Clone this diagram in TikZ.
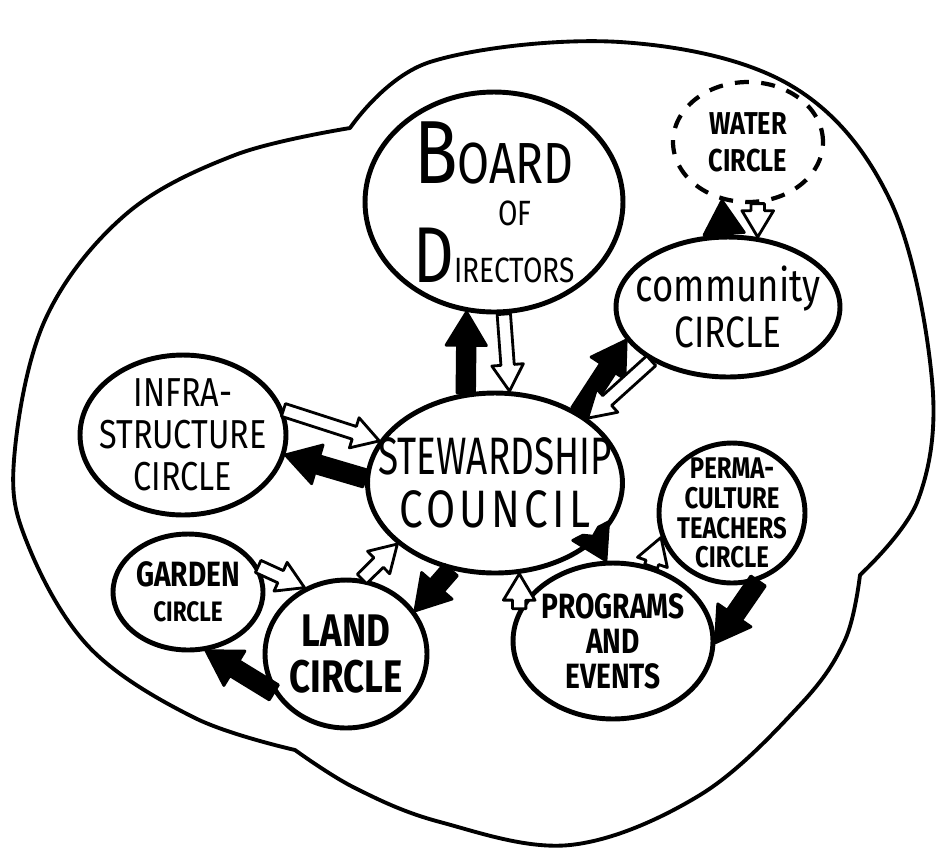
\documentclass[tikz,border=0pt]{standalone}
\usepackage{fontspec}
\setmainfont{Fira Sans}[FakeStretch=0.8]
\newfontfamily\narrowhand{Fira Sans}[FakeStretch=0.7]
\usetikzlibrary{shapes.geometric,calc}

% block arrow: fill, half shaft, half head, head length, from, to
\newcommand{\flowshape}[6]{%
  \path (#5) coordinate (fa) (#6) coordinate (fb);
  \path ($(fb)!#4!(fa)$) coordinate (fc);
  \filldraw[fill=#1, line width=1.6pt, line join=round]
    ($(fa)!#2!90:(fb)$) -- ($(fc)!#2!-90:(fa)$) -- ($(fc)!#3!-90:(fa)$) -- (fb)
    -- ($(fc)!#3!90:(fa)$) -- ($(fc)!#2!90:(fa)$) -- ($(fa)!#2!-90:(fb)$) -- cycle;
}
\newcommand{\blackflow}[2]{\flowshape{black}{5pt}{11.5pt}{19pt}{#1}{#2}}
\newcommand{\whiteflow}[2]{\flowshape{white}{3.8pt}{9pt}{15pt}{#1}{#2}}

\begin{document}
\begin{tikzpicture}[x=0.02cm, y=-0.02cm, line join=round,
		circ/.style={ellipse, draw, line width=2.8pt, inner sep=-20pt, align=center}]
		\useasboundingbox (0,0) rectangle (937,850);
		% outer border of the three lobes
		\draw[line width=2.2pt] plot[smooth, tension=0.6] coordinates {(350,128) (430,62) (620,42) (790,85) (890,200) (932,380) (918,500) (860,575)}
			-- plot[smooth, tension=0.6] coordinates {(860,575) (845,640) (800,705) (700,795) (570,845) (440,822) (355,788) (295,750)}
			-- plot[smooth, tension=0.6] coordinates {(295,750) (195,718) (90,648) (28,545) (14,460) (45,320) (125,215) (235,155) (350,128)} -- cycle;
		\node[circ, minimum width=5.16cm, minimum height=4.4cm, font=\fontsize{20}{24}\selectfont] (board) at (494,202)
			{{\fontsize{51}{51}\selectfont B}{\fontsize{33}{33}\selectfont OARD}\\\hspace*{1.2em}OF\\{\fontsize{45}{45}\selectfont D}IRECTORS};
		\node[circ, dash pattern=on 8pt off 7pt, line width=2.4pt, minimum width=3cm, minimum height=2.4cm,
			font=\bfseries\fontsize{18}{21}\selectfont] (water) at (748,142) {WATER\\CIRCLE};
		\node[circ, minimum width=4.48cm, minimum height=2.8cm, font=\fontsize{25}{26}\selectfont] (community) at (728,307)
			{{\fontsize{26}{26}\selectfont community}\\CIRCLE};
		\node[circ, minimum width=4.12cm, minimum height=3.2cm, font=\fontsize{23}{24}\selectfont] (infra) at (183,435)
			{INFRA-\\STRUCTURE\\CIRCLE};
		\node[circ, minimum width=5.1cm, minimum height=3.6cm, font=\fontsize{30}{30}\selectfont] (stew) at (495,483)
			{{\narrowhand STEWARDSHIP}\\{\addfontfeature{LetterSpace=8}COUNCIL}};
		\node[circ, minimum width=2.92cm, minimum height=2.8cm, font=\bfseries\fontsize{17}{17}\selectfont] (perma) at (732,513)
			{PERMA-\\CULTURE\\TEACHERS\\CIRCLE};
		\node[circ, minimum width=3cm, minimum height=2.32cm, font=\bfseries\fontsize{20}{20}\selectfont] (garden) at (188,592)
			{GARDEN\\{\fontsize{16}{16}\selectfont CIRCLE}};
		\node[circ, minimum width=3.24cm, minimum height=2.96cm, font=\bfseries\fontsize{26}{26}\selectfont] (land) at (346,654)
			{LAND\\CIRCLE};
		\node[circ, minimum width=4cm, minimum height=3.12cm, font=\bfseries\fontsize{20}{20}\selectfont] (programs) at (613,641)
			{PROGRAMS\\AND\\EVENTS};
		% flows between the circles
		\blackflow{stew.108}{board.-104}
		\whiteflow{board.-85}{stew.81}
		\blackflow{stew.40}{community.198}
		\whiteflow{community.215}{stew.35}
		\blackflow{community.93}{water.-114}
		\whiteflow{water.-81}{community.67}
		\whiteflow{infra.14}{stew.160}
		\blackflow{stew.178}{infra.-11}
		\whiteflow{land.78}{stew.212}
		\blackflow{stew.243}{land.32}
		\whiteflow{garden.20}{land.122}
		\blackflow{land.208}{garden.-73}
		\blackflow{stew.-30}{programs.95}
		\whiteflow{programs.161}{stew.-75}
		\whiteflow{programs.63}{perma.199}
		\blackflow{perma.-69}{programs.-1}
	\end{tikzpicture}
\end{document}
